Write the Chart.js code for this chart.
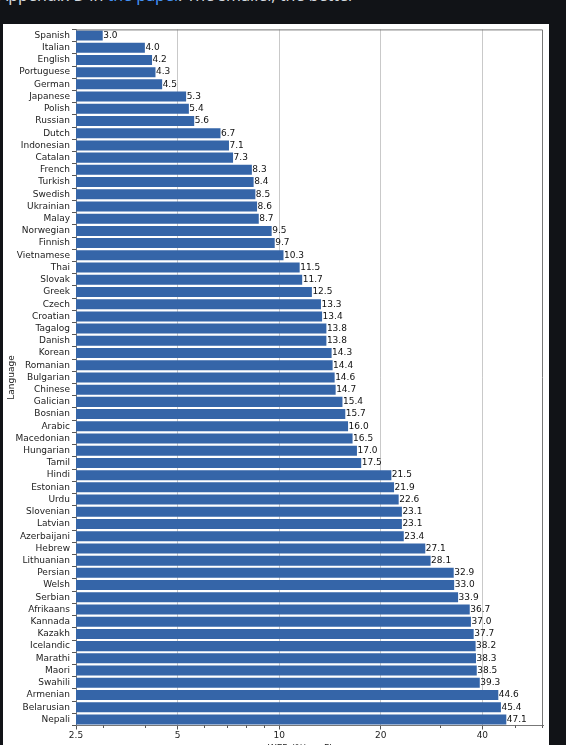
<!DOCTYPE html>
<html>
<head>
<meta charset="utf-8">
<script src="https://cdn.jsdelivr.net/npm/chart.js@4.4.0/dist/chart.umd.min.js"></script>
<style>
html, body { margin: 0; padding: 0; width: 566px; height: 745px; overflow: hidden; background: #111317; }
#nota { position: absolute; left: -2px; top: -13px; font: 16px/16px "Noto Sans", sans-serif; color: #d3d8df; white-space: nowrap; }
#nota a { color: #4493f8; text-decoration: none; }
#painel { position: absolute; left: 3px; top: 23.5px; width: 546px; height: 740px; background: #fff; }
#caixa { position: absolute; left: 0; top: 0; width: 566px; height: 745px; }
</style>
</head>
<body>
<div id="nota">Appendix D in <a>the paper</a>. The smaller, the better</div>
<div id="painel"></div>
<div id="caixa"><canvas id="grafico"></canvas></div>
<script>
// Dados
const idiomas = ['Spanish','Italian','English','Portuguese','German','Japanese','Polish','Russian','Dutch','Indonesian',
  'Catalan','French','Turkish','Swedish','Ukrainian','Malay','Norwegian','Finnish','Vietnamese','Thai',
  'Slovak','Greek','Czech','Croatian','Tagalog','Danish','Korean','Romanian','Bulgarian','Chinese',
  'Galician','Bosnian','Arabic','Macedonian','Hungarian','Tamil','Hindi','Estonian','Urdu','Slovenian',
  'Latvian','Azerbaijani','Hebrew','Lithuanian','Persian','Welsh','Serbian','Afrikaans','Kannada','Kazakh',
  'Icelandic','Marathi','Maori','Swahili','Armenian','Belarusian','Nepali'];
const wer = [3.0,4.0,4.2,4.3,4.5,5.3,5.4,5.6,6.7,7.1,
  7.3,8.3,8.4,8.5,8.6,8.7,9.5,9.7,10.3,11.5,
  11.7,12.5,13.3,13.4,13.8,13.8,14.3,14.4,14.6,14.7,
  15.4,15.7,16.0,16.5,17.0,17.5,21.5,21.9,22.6,23.1,
  23.1,23.4,27.1,28.1,32.9,33.0,33.9,36.7,37.0,37.7,
  38.2,38.3,38.5,39.3,44.6,45.4,47.1];
const ticksMaiores = [2.5, 5, 10, 20, 40];
const ticksMenores = [3, 4, 6, 7, 8, 9, 30, 50, 60];

const fonte = 'DejaVu Sans';

// Rótulos de valor, ticks menores, bordas e título do eixo x (cortado)
const extras = {
  id: 'extras',
  afterDatasetsDraw(chart) {
    const ctx = chart.ctx;
    const barras = chart.getDatasetMeta(0).data;
    ctx.save();
    ctx.font = '9px "' + fonte + '"';
    ctx.fillStyle = '#111';
    ctx.textAlign = 'left';
    ctx.textBaseline = 'middle';
    barras.forEach((b, i) => ctx.fillText(wer[i].toFixed(1), b.x + 0.5, b.y));
    ctx.restore();
  },
  afterDraw(chart) {
    const ctx = chart.ctx;
    const a = chart.chartArea;
    const x = chart.scales.x;
    ctx.save();
    ctx.strokeStyle = '#777';
    ctx.lineWidth = 1;
    ctx.beginPath();
    ctx.moveTo(a.left, a.top + 0.5); ctx.lineTo(a.right - 0.5, a.top + 0.5);
    ctx.lineTo(a.right - 0.5, a.bottom);
    ctx.stroke();
    ctx.strokeStyle = '#555';
    ticksMenores.forEach(v => {
      const px = Math.round(x.getPixelForValue(v)) + 0.5;
      if (px > a.right) return;
      ctx.beginPath();
      ctx.moveTo(px, a.bottom); ctx.lineTo(px, a.bottom + 2.5);
      ctx.stroke();
    });
    ctx.font = '9px "' + fonte + '"';
    ctx.fillStyle = '#222';
    ctx.textAlign = 'center';
    ctx.textBaseline = 'top';
    ctx.fillText('WER (%) on Fleurs', (a.left + a.right) / 2, 744);
    ctx.restore();
  }
};

new Chart(document.getElementById('grafico'), {
  type: 'bar',
  data: {
    labels: idiomas,
    datasets: [{
      data: wer,
      backgroundColor: '#3565a8',
      borderWidth: 0,
      barPercentage: 0.82,
      categoryPercentage: 1
    }]
  },
  options: {
    indexAxis: 'y',
    responsive: true,
    maintainAspectRatio: false,
    animation: false,
    layout: { padding: { top: 29.4, right: 23, left: 0, bottom: 0 } },
    plugins: { legend: { display: false }, tooltip: { enabled: false } },
    scales: {
      x: {
        type: 'logarithmic',
        min: 2.5,
        max: 60.5,
        z: 1,
        afterBuildTicks: s => { s.ticks = ticksMaiores.map(v => ({ value: v })); },
        afterFit: s => { s.height = 19.5; },
        ticks: {
          callback: v => String(v),
          font: { family: fonte, size: 9 },
          color: '#222',
          maxRotation: 0,
          autoSkip: false,
          padding: 1
        },
        grid: { color: 'rgba(165,165,165,0.6)', lineWidth: 1, tickLength: 4, tickColor: '#555' },
        border: { color: '#777' }
      },
      y: {
        afterFit: s => { s.width = 76; },
        ticks: {
          font: { family: fonte, size: 9 },
          color: '#222',
          autoSkip: false,
          padding: 2
        },
        grid: { drawOnChartArea: false, tickLength: 4, tickColor: '#555' },
        border: { color: '#777' },
        title: {
          display: true,
          text: 'Language',
          font: { family: fonte, size: 9 },
          color: '#222',
          padding: { top: 6, bottom: 0 }
        }
      }
    }
  },
  plugins: [extras]
});
</script>
</body>
</html>
